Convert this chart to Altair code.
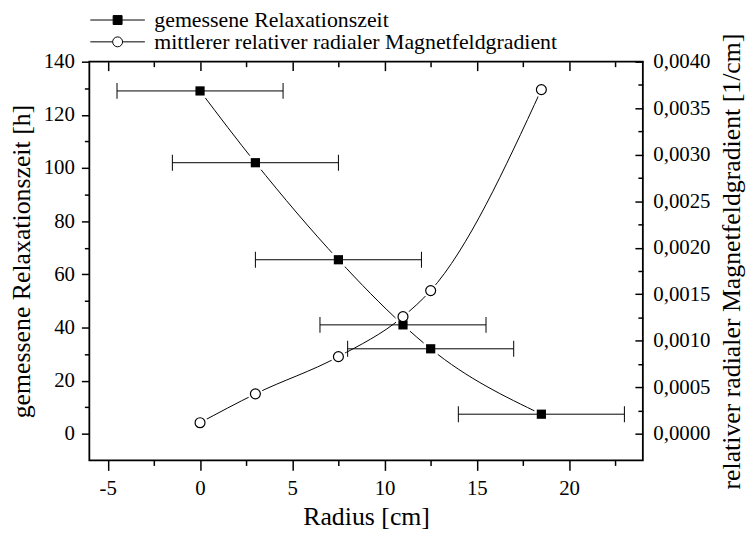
import altair as alt
import pandas as pd

# ---- data ----
radius = [0, 3, 7.5, 11, 12.5, 18.5]
relax = [129, 102, 65.5, 41, 32, 7.4]
err_lo = [-4.5, -1.5, 3, 6.5, 8, 14]
err_hi = [4.5, 7.5, 12, 15.5, 17, 23]
gradient = [0.00012, 0.00043, 0.00083, 0.00126, 0.00154, 0.00370]

series_names = ["gemessene Relaxationszeit",
                "mittlerer relativer radialer Magnetfeldgradient"]

x_ticks = [-5, 0, 5, 10, 15, 20]
x_minor = [-2.5, 2.5, 7.5, 12.5, 17.5, 22.5]
yl_ticks = [0, 20, 40, 60, 80, 100, 120, 140]
yl_minor = [10, 30, 50, 70, 90, 110, 130]
yr_ticks = [0, 0.0005, 0.001, 0.0015, 0.002, 0.0025, 0.003, 0.0035, 0.004]
yr_minor = [0.00025, 0.00075, 0.00125, 0.00175, 0.00225, 0.00275, 0.00325, 0.00375]

df = pd.DataFrame({"radius": radius, "relax": relax, "lo": err_lo,
                   "hi": err_hi, "grad": gradient})
leg_df = pd.DataFrame({"radius": radius[:2], "relax": relax[:2],
                       "series": series_names})

FONT = "'Liberation Serif', 'Times New Roman', Times, 'DejaVu Serif', serif"
W, H = 558, 402

xscale = alt.Scale(domain=[-6, 24], nice=False, zero=False)
ylscale = alt.Scale(domain=[-10, 140], nice=False, zero=False)
yrscale = alt.Scale(domain=[-10 * 0.004 / 140, 0.004], nice=False, zero=False)

common = dict(domain=False, grid=False, tickColor="black", tickWidth=1.5,
              labelFont=FONT, labelFontSize=21, labelColor="black")

ax_x_bottom = alt.Axis(values=x_ticks, tickSize=10, labelPadding=7,
                       labelExpr="datum.value < 0 ? '-' + abs(datum.value) : '' + datum.value",
                       title="Radius [cm]", titleFont=FONT, titleFontSize=26,
                       titleFontWeight="normal", titleColor="black",
                       titleX=W / 2, titleY=65, titleBaseline="alphabetic",
                       orient="bottom", **common)
ax_x_bottom_minor = alt.Axis(values=x_minor, tickSize=5, labels=False,
                             title=None, orient="bottom", **common)
ax_x_top = alt.Axis(values=x_ticks, tickSize=9, labels=False, title=None,
                    orient="bottom", offset=-H, **common)
ax_x_top_minor = alt.Axis(values=x_minor, tickSize=5, labels=False, title=None,
                          orient="bottom", offset=-H, **common)

ax_yl = alt.Axis(values=yl_ticks, tickSize=8, labelPadding=7, orient="left",
                 title="gemessene Relaxationszeit [h]", titleFont=FONT,
                 titleFontSize=26, titleFontWeight="normal", titleColor="black",
                 titleX=-68, titleY=H / 2, titleAngle=270, titleBaseline="middle",
                 titleAlign="center", **common)
ax_yl_minor = alt.Axis(values=yl_minor, tickSize=5, labels=False, title=None,
                       orient="left", **common)

ax_yr_labels = alt.Axis(values=yr_ticks, ticks=False, labelPadding=10, orient="right",
                        labelExpr="replace(format(datum.value, '.4f'), '.', ',')",
                        title="relativer radialer Magnetfeldgradient [1/cm]",
                        titleFont=FONT, titleFontSize=26, titleFontWeight="normal",
                        titleColor="black", titleX=89, titleY=H / 2, titleAngle=270,
                        titleBaseline="middle", titleAlign="center", **common)
ax_yr_in = alt.Axis(values=yr_ticks, tickSize=8, labels=False, title=None,
                    orient="left", offset=-W, **common)
ax_yr_in_minor = alt.Axis(values=yr_minor, tickSize=5, labels=False, title=None,
                          orient="left", offset=-W, **common)

base = alt.Chart(df)


def X(axis, field="radius"):
    return alt.X(f"{field}:Q", scale=xscale, axis=axis)


def YL(axis):
    return alt.Y("relax:Q", scale=ylscale, axis=axis)


def YR(axis):
    return alt.Y("grad:Q", scale=yrscale, axis=axis)


line_relax = base.mark_line(interpolate="monotone", color="black", strokeWidth=1).encode(
    x=X(ax_x_bottom), y=YL(ax_yl))
line_grad = base.mark_line(interpolate="monotone", color="black", strokeWidth=1).encode(
    x=X(None), y=YR(ax_yr_labels))

halo_relax = base.mark_square(size=200, color="white", opacity=1).encode(
    x=X(ax_x_bottom_minor), y=YL(ax_yl_minor))
halo_grad = base.mark_point(shape="circle", size=240, filled=True, color="white",
                            opacity=1).encode(x=X(None), y=YR(ax_yr_in))

err_rule = base.mark_rule(color="black", strokeWidth=1).encode(
    x=X(ax_x_top, "lo"), x2="hi:Q", y=YL(None))
cap_lo = base.mark_tick(orient="vertical", size=16, thickness=1, color="black",
                        opacity=1).encode(x=X(ax_x_top_minor, "lo"), y=YL(None))
cap_hi = base.mark_tick(orient="vertical", size=16, thickness=1, color="black",
                        opacity=1).encode(x=X(None, "hi"), y=YL(None))

squares = base.mark_square(size=86, color="black", opacity=1).encode(
    x=X(None), y=YL(None))
circles = base.mark_point(shape="circle", size=100, filled=True, fill="white",
                          stroke="black", strokeWidth=1.2, opacity=1).encode(
    x=X(None), y=YR(ax_yr_in_minor))

path_sq = "M-2.75,0H-0.45M0.45,0H2.75M-0.45,-0.45H0.45V0.45H-0.45Z"
path_circ = "M-2.75,0H-0.5M0.5,0H2.75M0.5,0A0.5,0.5,0,1,1,-0.5,0A0.5,0.5,0,1,1,0.5,0Z"

legend = alt.Legend(title=None, orient="none", legendX=17.5, legendY=-53,
                    symbolSize=400, symbolStrokeWidth=1, symbolOpacity=1,
                    labelOffset=26, rowPadding=0, padding=0, labelFont=FONT,
                    labelFontSize=22, labelColor="black", labelLimit=700)

legend_layer = alt.Chart(leg_df).mark_point(size=400, filled=True, opacity=0).encode(
    x=X(None), y=YL(None),
    shape=alt.Shape("series:N", scale=alt.Scale(domain=series_names,
                                                 range=[path_sq, path_circ]),
                    legend=legend),
    fill=alt.Fill("series:N", scale=alt.Scale(domain=series_names,
                                               range=["black", "white"]),
                  legend=legend),
    stroke=alt.Stroke("series:N", scale=alt.Scale(domain=series_names,
                                                   range=["black", "black"]),
                      legend=legend),
)

chart = alt.layer(
    line_relax, line_grad, halo_relax, halo_grad, err_rule, cap_lo, cap_hi,
    squares, circles, legend_layer
).resolve_scale(y="independent").resolve_axis(x="independent", y="independent").properties(
    width=W, height=H,
    padding={"left": 82, "top": 52, "right": 105, "bottom": 70},
    autosize=alt.AutoSizeParams(type="none"),
    background="white",
).configure_view(stroke="black", strokeWidth=1.8)

chart.save("out.html", embed_options={"renderer": "svg", "actions": False})
